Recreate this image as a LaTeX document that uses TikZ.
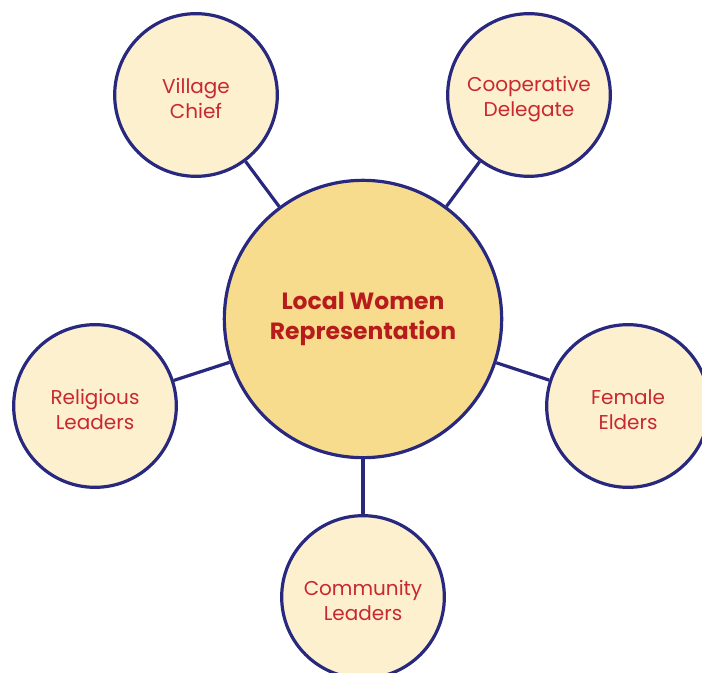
\documentclass[tikz,border=0pt]{standalone}
\usepackage{fontspec}
\setmainfont{Poppins}
\usepackage{tikz}
\usetikzlibrary{positioning}
\definecolor{colorRing}{HTML}{29287F}
\definecolor{colorHub}{HTML}{F7DC8E}
\definecolor{colorLeaf}{HTML}{FCF0CF}
\definecolor{colorLabel}{HTML}{C9282E}
\definecolor{colorHubLabel}{HTML}{B71C1C}

\tikzset{
    hub/.style={circle, draw=colorRing, fill=colorHub, line width=2.4pt,
        minimum size=208pt, align=center, text=colorHubLabel,
        font=\fontsize{17.6}{22.5}\selectfont\bfseries},
    leaf/.style={circle, draw=colorRing, fill=colorLeaf, line width=2.4pt,
        minimum size=122pt, align=center, text=colorLabel, text height=36pt,
        font=\fontsize{15}{18.8}\selectfont},
    spoke/.style={colorRing, line width=2.4pt}
}

\begin{document}
\begin{tikzpicture}[x=0.75pt,y=-0.75pt]
        \useasboundingbox (0,0) rectangle (702,673);
        \clip (0,0) rectangle (702,673);
        \node[hub]  (lwr)    at (363,319) {Local Women\\Representation};
        \node[leaf] (chief)  at (196,95)  {Village\\Chief};
        \node[leaf] (coop)   at (529,95)  {Cooperative\\Delegate};
        \node[leaf] (relig)  at (95,406)  {Religious\\Leaders};
        \node[leaf] (elders) at (628,406) {Female\\Elders};
        \node[leaf] (commun) at (363,597) {Community\\Leaders};
        % spokes
        \foreach \n in {chief,coop,relig,elders,commun}
            \draw[spoke] (lwr) -- (\n);
    \end{tikzpicture}
\end{document}
